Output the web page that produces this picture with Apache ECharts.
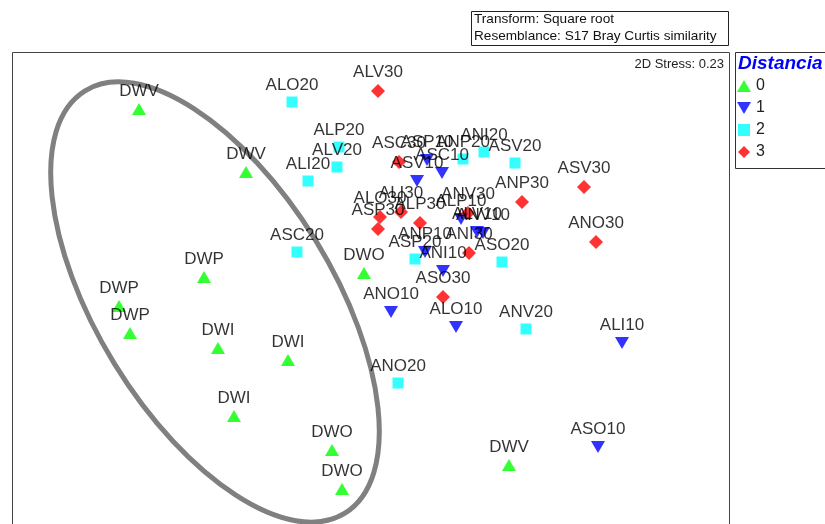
<!DOCTYPE html>
<html>
<head>
<meta charset="utf-8">
<script src="https://cdn.jsdelivr.net/npm/echarts@6/dist/echarts.min.js"></script>
<style>html,body{margin:0;padding:0;background:#fff;}#c{width:825px;height:524px;}</style>
</head>
<body>
<div id="c"></div>
<script>
// MDS coordinates (arbitrary units)
var g0Names = ['DWV','DWV','DWP','DWP','DWP','DWI','DWI','DWI','DWO','DWO','DWO','DWV'];
var g0X = [127,234,192,107,118,206,276,222,320,330,352,497];
var g0Y = [415,352,247,218,191,176,164,108,74,35,251,59];

var g1Names = ['ASP10','ASC10','ASV10','ALP10','ALV10','ANV10','ANP10','ANI10','ANO10','ALO10','ALI10','ASO10'];
var g1X = [415,430,405,449,465,471,413,431,379,444,610,586];
var g1Y = [364,351,343,305,292,291,272,253,212,197,181,77];

var g2Names = ['ALO20','ALP20','ALV20','ALI20','ASC20','ASP20','ANP20','ANI20','ASV20','ASO20','ANV20','ANO20'];
var g2X = [280,327,325,296,285,403,451,472,503,490,514,386];
var g2Y = [422,377,357,343,272,265,365,372,361,262,195,141];

var g3Names = ['ALV30','ASC30','ANP30','ASV30','ANO30','ASO30','ALO30','ASP30','ALI30','ALP30','ANV30','ANI30'];
var g3X = [366,387,510,572,584,431,368,366,389,408,456,457];
var g3Y = [433,362,322,337,282,227,307,295,312,301,311,271];

var groupNames = ['0','1','2','3'];
// ellipse: centre x, centre y, semi-major, semi-minor, angle (deg, clockwise from x)
var ellipse = [203, 222, 248, 118, 58.4];

function pts(xs, ys, names){
  return xs.map(function(x,i){ return {value:[x, ys[i]], name:names[i]}; });
}
var FONT = 'Liberation Sans, Arial, sans-serif';
var labelCfg = {show:true, position:'top', distance:3, formatter:'{b}', color:'#000', fontSize:17, fontFamily:FONT};

var chart = echarts.init(document.getElementById('c'));
chart.setOption({
  animation:false,
  grid:{left:12, top:52, width:718, height:472, show:false},
  xAxis:{type:'value', min:0, max:718, show:false},
  yAxis:{type:'value', min:0, max:472, show:false},
  title:[
    {text:'2D Stress: 0.23', right:101, top:58, padding:0, textStyle:{fontSize:13, fontWeight:'normal', color:'#222', fontFamily:FONT}},
    {text:'Distancia', left:738, top:54, padding:0, textStyle:{fontSize:19, fontWeight:'bold', fontStyle:'italic', color:'#0000ff', fontFamily:FONT}}
  ],
  legend:{
    orient:'vertical', left:737, top:78, padding:0, itemWidth:14, itemHeight:12, itemGap:6,
    data:[
      {name:'0', icon:'path://M7,0L14,12L0,12Z'},
      {name:'1', icon:'path://M0,0L14,0L7,12Z'},
      {name:'2', icon:'path://M0,0L11,0L11,11L0,11Z'},
      {name:'3', icon:'path://M6.5,0L13,6.5L6.5,13L0,6.5Z'}
    ],
    textStyle:{fontSize:16, lineHeight:16, color:'#222', fontFamily:FONT}
  },
  graphic:[
    {type:'rect', z:-10, shape:{x:12.5, y:52.5, width:717, height:500}, style:{fill:'#fff', stroke:'#444', lineWidth:1}},
    {type:'rect', shape:{x:471.5, y:11.5, width:257, height:34}, style:{fill:'#fff', stroke:'#222', lineWidth:1}},
    {type:'text', x:474, y:12, style:{text:'Transform: Square root', fontSize:13.6, fontFamily:FONT, fill:'#111'}},
    {type:'text', x:474, y:29, style:{text:'Resemblance: S17 Bray Curtis similarity', fontSize:13.6, fontFamily:FONT, fill:'#111'}},
    {type:'rect', shape:{x:735.5, y:52.5, width:100, height:116}, style:{fill:'none', stroke:'#333', lineWidth:1}}
  ],
  series:[
    {type:'custom', silent:true, z:1, data:[ellipse],
     renderItem:function(params, api){
       var c = api.coord([api.value(0), api.value(1)]);
       var s = api.size([api.value(2), api.value(3)]);
       return {type:'ellipse', x:c[0], y:c[1], rotation:-api.value(4)*Math.PI/180,
         shape:{cx:0, cy:0, rx:s[0], ry:s[1]},
         style:{fill:'none', stroke:'#808080', lineWidth:5}};
     }},
    {name:'0', type:'scatter', symbol:'triangle', symbolSize:[14,12], itemStyle:{color:'#00ff00'}, label:labelCfg, data:pts(g0X,g0Y,g0Names), z:3},
    {name:'1', type:'scatter', symbol:'triangle', symbolRotate:180, symbolSize:[14,12], itemStyle:{color:'#0000ff'}, label:labelCfg, data:pts(g1X,g1Y,g1Names), z:3},
    {name:'2', type:'scatter', symbol:'rect', symbolSize:11, itemStyle:{color:'#00ffff'}, label:labelCfg, data:pts(g2X,g2Y,g2Names), z:3},
    {name:'3', type:'scatter', symbol:'diamond', symbolSize:14, itemStyle:{color:'#ff0000'}, label:labelCfg, data:pts(g3X,g3Y,g3Names), z:3}
  ]
});
</script>
</body>
</html>
